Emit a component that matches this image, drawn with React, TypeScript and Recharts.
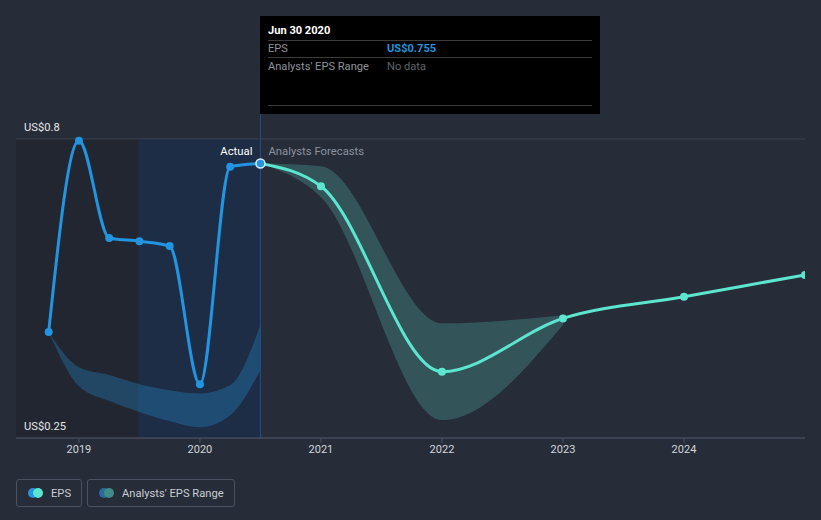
import React from 'react';
import {
  ComposedChart,
  Line,
  Area,
  XAxis,
  YAxis,
  CartesianGrid,
  ReferenceArea,
  ReferenceLine,
} from 'recharts';

// ---- data ----
const actualDates = [2018.75, 2019.0, 2019.25, 2019.5, 2019.75, 2020.0, 2020.25, 2020.5];
const actualEps = [0.445, 0.797, 0.618, 0.612, 0.603, 0.349, 0.749, 0.755];
const pastRangeLow = [0.445, 0.345, 0.318, 0.298, 0.281, 0.27, 0.292, 0.375];
const pastRangeHigh = [0.445, 0.38, 0.366, 0.349, 0.338, 0.332, 0.347, 0.458];

const forecastDates = [2020.5, 2021.0, 2022.0, 2023.0, 2024.0, 2025.0];
const forecastEps = [0.755, 0.713, 0.372, 0.47, 0.51, 0.55];
const fcRangeDates = [2020.5, 2021.0, 2022.0, 2023.0];
const fcRangeLow = [0.755, 0.693, 0.283, 0.458];
const fcRangeHigh = [0.755, 0.75, 0.461, 0.476];

const xTicks = [2019, 2020, 2021, 2022, 2023, 2024];
const yTicks = [0.25, 0.4, 0.6, 0.8];
const yLabelled = [0.25, 0.8];

// ---- build table ----
type Row = {
  t: number;
  eps?: number;
  fc?: number;
  past?: [number, number];
  fcr?: [number, number];
};
const allDates = Array.from(
  new Set([...actualDates, ...forecastDates, ...fcRangeDates])
).sort((a, b) => a - b);
const table: Row[] = allDates.map((t) => {
  const r: Row = { t };
  const ai = actualDates.indexOf(t);
  if (ai >= 0) {
    r.eps = actualEps[ai];
    r.past = [pastRangeLow[ai], pastRangeHigh[ai]];
  }
  const fi = forecastDates.indexOf(t);
  if (fi >= 0) r.fc = forecastEps[fi];
  const ri = fcRangeDates.indexOf(t);
  if (ri >= 0) r.fcr = [fcRangeLow[ri], fcRangeHigh[ri]];
  return r;
});

const BG = '#262c38';
const BLUE = '#2394df';
const MINT = '#5ce6cf';
const FONT = 'Roboto, "Noto Sans", sans-serif';

const makeYLabel = (v: number) => (props: any) => {
  const vb = props.viewBox || {};
  return (
    <text x={24} y={vb.y - 8} fill="#e6e8eb" fontSize={11.2} fontFamily={FONT} textAnchor="start">
      {`US$${v}`}
    </text>
  );
};

const ActualDot = (props: any) => {
  const { cx, cy, index } = props;
  if (cx == null || cy == null) return null;
  if (index === actualDates.length - 1) {
    return <circle key={`a${index}`} cx={cx} cy={cy} r={4.5} fill={BLUE} stroke="#d8ecff" strokeWidth={1.5} />;
  }
  return <circle key={`a${index}`} cx={cx} cy={cy} r={4} fill={BLUE} />;
};

const FcDot = (props: any) => {
  const { cx, cy, index, payload } = props;
  if (cx == null || cy == null || payload.t === forecastDates[0]) return <g key={`f${index}`} />;
  return <circle key={`f${index}`} cx={cx} cy={cy} r={4} fill={MINT} />;
};

const DividerLabel = (props: any) => {
  const vb = props.viewBox || {};
  const x = vb.x;
  const y = vb.y;
  return (
    <g fontFamily={FONT} fontSize={11.3}>
      <text x={x - 8} y={y + 16} fill="#ffffff" textAnchor="end">Actual</text>
      <text x={x + 8} y={y + 16} fill="#8c939f" textAnchor="start">Analysts Forecasts</text>
    </g>
  );
};

const LegendItem = ({ c1, c2, label, width }: { c1: string; c2: string; label: string; width: number }) => (
  <div
    style={{
      boxSizing: 'border-box',
      width,
      height: 28,
      border: '1px solid #4a5262',
      borderRadius: 3,
      display: 'flex',
      alignItems: 'center',
      paddingLeft: 11,
      marginRight: 5,
      whiteSpace: 'nowrap',
    }}
  >
    <div style={{ position: 'relative', width: 15, height: 10, marginRight: 8, flexShrink: 0 }}>
      <div style={{ position: 'absolute', left: 0, top: 0, width: 10, height: 10, borderRadius: 5, background: c1 }} />
      <div style={{ position: 'absolute', left: 5, top: 0, width: 10, height: 10, borderRadius: 5, background: c2 }} />
    </div>
    <span style={{ color: '#c9ccd2', fontSize: 11.2 }}>{label}</span>
  </div>
);

export default function App() {
  return (
    <div
      style={{
        position: 'absolute',
        left: 0,
        top: 0,
        width: 821,
        height: 520,
        background: BG,
        fontFamily: FONT,
        overflow: 'hidden',
      }}
    >
      <ComposedChart
        width={821}
        height={520}
        data={table}
        margin={{ top: 139, right: 16, bottom: 52, left: 16 }}
      >
        <CartesianGrid vertical={false} stroke="#3c424e" />
        <ReferenceArea x1={2018.48} x2={2019.49} fill="#000000" fillOpacity={0.13} stroke="none" />
        <ReferenceArea x1={2019.49} x2={2020.5} fill="#0b3266" fillOpacity={0.3} stroke="none" />
        <XAxis
          dataKey="t"
          type="number"
          domain={[2018.48, 2025]}
          ticks={xTicks}
          tickFormatter={(v: number) => String(v)}
          axisLine={{ stroke: '#4b5162' }}
          tickLine={{ stroke: '#4b5162' }}
          tickSize={5}
          tick={{ fill: '#d3d6db', fontSize: 11, fontFamily: FONT }}
          height={30}
          allowDataOverflow
        />
        <YAxis
          type="number"
          domain={[0.25, 0.8]}
          ticks={yTicks}
          width={0}
          axisLine={false}
          tickLine={false}
          tick={false}
        />
        {yLabelled.map((v) => (
          <ReferenceLine key={`yl${v}`} y={v} stroke="none" label={makeYLabel(v)} />
        ))}
        <Area
          dataKey={(d: Row) => d.past}
          type="monotone"
          stroke="none"
          fill={BLUE}
          fillOpacity={0.3}
          isAnimationActive={false}
          connectNulls={false}
        />
        <Area
          dataKey={(d: Row) => d.fcr}
          type="monotone"
          stroke="none"
          fill="#58c8b8"
          fillOpacity={0.26}
          isAnimationActive={false}
          connectNulls={false}
        />
        <ReferenceLine
          segment={[{ x: 2020.5, y: 0.846 }, { x: 2020.5, y: 0.25 }]}
          stroke="#1f4f8c"
          strokeWidth={1}
          ifOverflow="visible"
        />
        <ReferenceLine x={2020.5} stroke="none" label={DividerLabel} />
        <Line
          dataKey="fc"
          type="monotone"
          stroke={MINT}
          strokeWidth={3}
          dot={<FcDot />}
          activeDot={false}
          isAnimationActive={false}
        />
        <Line
          dataKey="eps"
          type="monotone"
          stroke={BLUE}
          strokeWidth={3}
          dot={<ActualDot />}
          activeDot={false}
          isAnimationActive={false}
        />
      </ComposedChart>

      {/* tooltip-like info box */}
      <div
        style={{
          position: 'absolute',
          left: 260,
          top: 16,
          width: 340,
          height: 98,
          background: '#000',
          boxSizing: 'border-box',
          padding: '0 8px',
          fontSize: 11.1,
        }}
      >
        <div style={{ height: 24, lineHeight: '30px', color: '#fff', fontWeight: 700, borderBottom: '1px solid #3a3a3a' }}>
          Jun 30 2020
        </div>
        <div style={{ display: 'flex', height: 16, lineHeight: '16px', borderBottom: '1px solid #3a3a3a' }}>
          <span style={{ width: 119, color: '#8f949c' }}>EPS</span>
          <span style={{ color: BLUE, fontWeight: 700 }}>US$0.755</span>
        </div>
        <div style={{ display: 'flex', height: 16, lineHeight: '16px', paddingTop: 1 }}>
          <span style={{ width: 119, color: '#8f949c' }}>Analysts' EPS Range</span>
          <span style={{ color: '#5e636b' }}>No data</span>
        </div>
        <div style={{ position: 'absolute', left: 8, right: 8, top: 89, borderTop: '1px solid #3a3a3a' }} />
      </div>

      {/* legend */}
      <div style={{ position: 'absolute', left: 16, top: 479, display: 'flex' }}>
        <LegendItem c1={BLUE} c2={MINT} label="EPS" width={66} />
        <LegendItem c1="#2b6a9e" c2="#3f8c86" label="Analysts' EPS Range" width={148} />
      </div>
    </div>
  );
}
